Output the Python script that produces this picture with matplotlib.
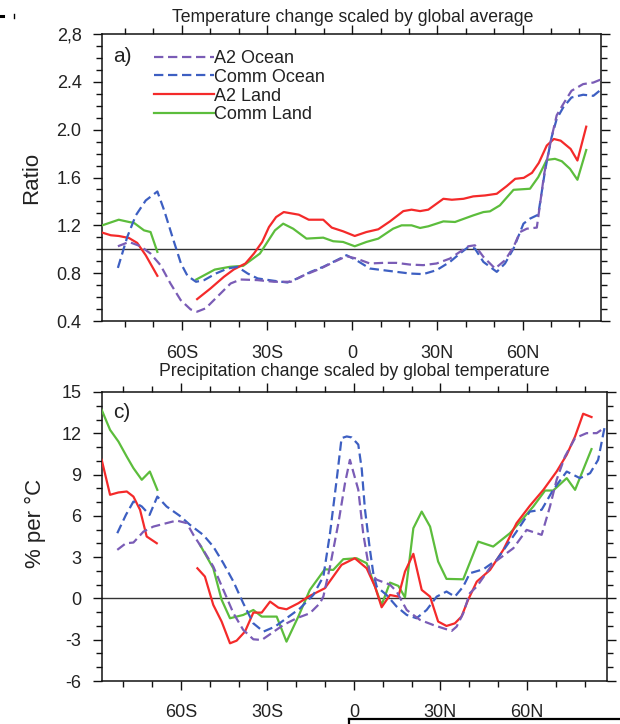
import numpy as np
import matplotlib
matplotlib.use("Agg")
import matplotlib.pyplot as plt
from matplotlib.lines import Line2D
from matplotlib.ticker import MultipleLocator, FixedLocator

plt.rcParams['font.family'] = ['Liberation Sans', 'DejaVu Sans']

nan = np.nan

# ---------------- Panel a) temperature ratio ----------------
a2_ocean_t_lat = [-82.5, -78.6, -74.5, -71, -67.5, -64, -60.4, -56.9, -54.6, -51.6, -47.5, -42.8, -39.3, -33.4,
                  -27.5, -21.6, -16.9, -11.1, -6.4, -2, 1.5, 6.2, 10.9, 15.6, 20.3, 25, 29.7, 34.4, 37.9, 40.9,
                  43.2, 46.2, 50.3, 53.8, 56.8, 59.1, 61.5, 65, 67.6, 70.2, 72, 74.3, 77.2, 81.3, 84.9, 87.8]
a2_ocean_t = [1.025, 1.061, 1.025, 0.964, 0.867, 0.714, 0.575, 0.497, 0.478, 0.506, 0.603, 0.714, 0.747, 0.742,
              0.728, 0.728, 0.783, 0.839, 0.894, 0.942, 0.922, 0.881, 0.886, 0.886, 0.872, 0.867, 0.881, 0.922,
              0.978, 1.025, 1.033, 0.936, 0.839, 0.908, 1.019, 1.144, 1.172, 1.181, 1.631, 1.936, 2.12, 2.214,
              2.325, 2.381, 2.394, 2.422]

comm_ocean_t_lat = [-82.5, -79.2, -76.2, -72.7, -68.6, -66.2, -63.3, -60.3, -58, -55, -52.1, -48, -43.9, -40.4,
                    -36.8, -33.3, -27.5, -22.8, -19.3, -14.6, -10.2, -5.5, -2, 1.5, 6.2, 10.9, 15.6, 20.3, 25,
                    29.7, 34.4, 37.9, 40.9, 43.2, 46.2, 50.9, 53.8, 56.8, 60.3, 62.6, 65.5, 67.9, 70.2, 72, 74.3,
                    77.2, 81.3, 84.9, 87.8]
comm_ocean_t = [0.844, 1.103, 1.283, 1.408, 1.483, 1.325, 1.103, 0.881, 0.778, 0.728, 0.742, 0.797, 0.839, 0.853,
                0.797, 0.756, 0.736, 0.722, 0.756, 0.811, 0.853, 0.908, 0.95, 0.908, 0.839, 0.825, 0.811, 0.797,
                0.792, 0.825, 0.894, 0.964, 1.019, 1.006, 0.894, 0.811, 0.881, 1.006, 1.214, 1.256, 1.289, 1.658,
                1.936, 2.09, 2.186, 2.269, 2.292, 2.283, 2.339]

a2_land_t_lat = [-88, -85, -82.2, -78.6, -75.7, -72.7, -68.6, nan,
                 -54.6, -49.9, -45.2, -41.7, -37.6, -34.6, -31.7, -29.3, -26.8, -24.1, -18.8, -15.3, -10.2, -7.2,
                 -3.2, 0.9, 5, 9.2, 13.3, 18, 20.9, 23.9, 26.8, 32.1, 35.1, 39.2, 42.6, 46.8, 50.9, 54.4, 57.4,
                 60.4, 63.3, 65.7, 68.5, 71, 73.4, 76.9, 79.3, 82.4]
a2_land_t = [1.139, 1.117, 1.111, 1.094, 1.053, 0.95, 0.778, nan,
             0.583, 0.672, 0.769, 0.831, 0.881, 0.964, 1.061, 1.186, 1.269, 1.311, 1.289, 1.247, 1.247, 1.181,
             1.15, 1.111, 1.144, 1.167, 1.233, 1.319, 1.331, 1.319, 1.331, 1.422, 1.414, 1.422, 1.442, 1.45,
             1.464, 1.528, 1.589, 1.597, 1.639, 1.722, 1.867, 1.922, 1.908, 1.839, 1.742, 2.025]

comm_land_t_lat = [-88, -82.2, -78.6, -76.8, -73.3, -71, -68.6, nan,
                   -54.9, -48.4, -43.1, -38.4, -32.5, -27.2, -24.3, -20.8, -16.1, -10.2, -6.7, -3.2, 0.9, 5,
                   9.2, 14.4, 17.4, 20.9, 23.9, 26.8, 32.1, 36.2, 42.6, 46.2, 48.5, 52, 56.8, 62.6, 65.5, 68.5,
                   71.4, 73.8, 76.7, 79.3, 82.4]
comm_land_t = [1.2, 1.247, 1.228, 1.22, 1.158, 1.144, 0.978, nan,
               0.747, 0.83, 0.853, 0.861, 0.964, 1.158, 1.214, 1.172, 1.089, 1.097, 1.067, 1.061, 1.025, 1.061,
               1.089, 1.172, 1.2, 1.2, 1.178, 1.192, 1.233, 1.228, 1.283, 1.311, 1.317, 1.367, 1.497, 1.506,
               1.603, 1.747, 1.756, 1.736, 1.672, 1.581, 1.83]

# ---------------- Panel c) precipitation ----------------
a2_ocean_p_lat = [-82.1, -79.1, -76.5, -73, -69.6, -65, -61.5, -58, -55.7, -52.3, -48.8, -45.3, -41.8, -38.4,
                  -34.9, -32, -28.6, -24.5, -19.9, -15.3, -11.8, -10.6, -8.3, -5.4, -3.1, -1.4, 1.5, 3.2, 5.5,
                  7.9, 12.5, 14.8, 18.3, 22.9, 27.5, 31, 33.9, 35.6, 37.9, 40.2, 42.6, 48.3, 55.3, 59.9, 65.1,
                  68, 70.3, 73.2, 76.7, 80.7, 84.2, 86.7]
a2_ocean_p = [3.53, 4.01, 4.06, 4.86, 5.22, 5.47, 5.66, 5.47, 4.62, 3.53, 2.32, 0.62, -1.08, -2.29, -2.97,
              -3.02, -2.53, -1.93, -1.44, -1.08, -0.35, 0.15, 2.32, 5.47, 8.38, 10.07, 7.9, 4.74, 1.84, 1.36,
              1.0, 0.5, -0.84, -1.56, -1.93, -2.17, -2.36, -2.05, -1.08, 0.38, 0.86, 2.56, 3.65, 4.98, 4.62,
              6.68, 8.62, 10.32, 11.65, 12.01, 12.01, 12.38]

comm_ocean_p_lat = [-82.1, -79.1, -76.5, -73.6, -70.9, -68.2, -65, -60.4, -56.9, -52.3, -48.8, -45.3, -41.8,
                    -38.4, -34.9, -31.4, -27.4, -23.4, -18.7, -14.1, -10.6, -8.3, -6, -4.3, -2.5, -0.8, 1.5,
                    2.7, 3.8, 5.5, 6.7, 7.9, 11.3, 14.8, 18.3, 21.7, 25.2, 28.7, 32.1, 35, 37.9, 40.2, 44.9,
                    49.5, 56.4, 61, 65.1, 69.1, 73.8, 78.4, 81.9, 84.7, 87]
comm_ocean_p = [4.74, 6.07, 7.04, 6.68, 6.07, 7.4, 6.68, 6.0, 5.35, 4.62, 3.77, 2.56, 1.22, -0.35, -1.81,
                -2.41, -2.05, -1.44, -0.72, 0.25, 1.6, 4.74, 8.62, 11.65, 11.77, 11.7, 11.18, 9.4, 6.5, 3.6,
                1.84, 0.86, 0.25, -0.59, -1.2, -1.44, -0.84, 0.13, 0.5, 0.13, 0.86, 1.83, 2.12, 2.8, 4.86,
                6.31, 6.44, 7.89, 9.22, 8.74, 9.1, 10.07, 12.5]

a2_land_p_lat = [-87.5, -84.6, -81.7, -78.8, -76.5, -74.2, -71.9, -68.4, nan,
                 -54.3, -51.7, -48.8, -45.9, -43, -40.7, -37.8, -34.9, -32, -29.1, -26.2, -23.4, -19.3, -15.8,
                 -10.1, -4.3, 0.3, 4.4, 7.3, 9.6, 12.5, 15.4, 17.7, 20.6, 23.5, 26.4, 29.2, 32.1, 35, 37.3,
                 39.6, 42.6, 47.2, 51.8, 56.4, 61, 65.7, 70.3, 73.8, 76.7, 79.5, 82.4]
a2_land_p = [10.07, 7.53, 7.7, 7.77, 7.4, 6.44, 4.5, 4.01, nan,
             2.19, 1.59, -0.47, -1.68, -3.26, -3.07, -2.41, -1.03, -1.03, -0.23, -0.67, -0.79, -0.35, 0.13,
             0.74, 2.44, 2.92, 2.19, 0.86, -0.64, 0.25, 0.13, 1.95, 3.24, 0.62, 0.13, -1.68, -2.0, -1.81,
             -1.32, -0.1, 1.22, 2.07, 3.53, 5.47, 6.73, 7.89, 9.22, 10.44, 11.77, 13.42, 13.18]

comm_land_p_lat = [-87.5, -84.6, -81.7, -78.8, -76.5, -73.6, -70.8, -68.2, nan,
                   -53.4, -48.8, -45.9, -43, -38.4, -34.9, -32, -26.8, -23.4, -19.3, -15.3, -10.1, -7.2, -3.7,
                   0.9, 4.4, 7.3, 9.6, 12.5, 15.4, 17.7, 20.6, 23.5, 26.4, 29.2, 32.1, 37.9, 43.1, 48.3, 54.1,
                   58.2, 62.2, 66.3, 69.1, 73.8, 76.7, 82.4]
comm_land_p = [13.7, 12.25, 11.4, 10.3, 9.47, 8.62, 9.22, 7.89, nan,
               3.89, 2.19, -0.1, -1.44, -1.2, -0.84, -1.32, -1.32, -3.14, -1.32, 0.62, 2.12, 2.07, 2.85,
               2.92, 2.56, 0.86, -0.47, 1.15, 0.91, 0.08, 5.1, 6.31, 5.22, 2.68, 1.42, 1.39, 4.13, 3.77, 4.74,
               5.7, 6.68, 7.84, 7.84, 8.74, 7.89, 10.85]

series_names = ["A2 Ocean", "Comm Ocean", "A2 Land", "Comm Land"]
colors = ["#7a5cb6", "#3d5fc2", "#f42a2a", "#5cbd3c"]
dashed = [True, True, False, False]

xtick_pos = [-60, -30, 0, 30, 60]
xtick_lab = ["60S", "30S", "0", "30N", "60N"]
ytick_a = [0.4, 0.8, 1.2, 1.6, 2.0, 2.4, 2.8]
ytick_a_lab = ["0.4", "0.8", "1.2", "1.6", "2.0", "2.4", "2,8"]
ytick_c = [-6, -3, 0, 3, 6, 9, 12, 15]

W, H = 620, 724
fig = plt.figure(figsize=(W / 100, H / 100), dpi=100)

def ax_rect(l, t, r, b):
    return [l / W, 1 - b / H, (r - l) / W, (b - t) / H]

ax1 = fig.add_axes(ax_rect(101.7, 34, 601, 321))
ax2 = fig.add_axes(ax_rect(101.7, 392, 606.5, 681))

TXT = "#222222"
LW = 1.6
DASH = (4.2, 2.1)

def style(ax, xlim, ylim, yt, ytl, ymin, xpad):
    ax.set_xlim(*xlim)
    ax.set_ylim(*ylim)
    ax.xaxis.set_major_locator(FixedLocator(xtick_pos))
    ax.set_xticklabels(xtick_lab)
    ax.xaxis.set_minor_locator(MultipleLocator(10))
    ax.set_yticks(yt)
    ax.set_yticklabels(ytl)
    ax.yaxis.set_minor_locator(MultipleLocator(ymin))
    for s in ax.spines.values():
        s.set_linewidth(1.1)
        s.set_color("#111111")
    ax.tick_params(which="both", direction="out", top=True, right=True, color="#111111", width=1.0)
    ax.tick_params(which="major", length=6.5)
    ax.tick_params(which="minor", length=4.0)
    ax.tick_params(axis="x", which="major", pad=xpad, labelsize=13, labelcolor=TXT)
    ax.tick_params(axis="y", which="major", pad=8.0, labelsize=13, labelcolor=TXT)

style(ax1, (-88.2, 87.6), (0.4, 2.8), ytick_a, ytick_a_lab, 0.1, 10.5)
style(ax2, (-87.5, 87.6), (-6, 15), ytick_c, [str(v) for v in ytick_c], 1, 10.0)

ax1.axhline(1.0, color="#333333", lw=1.0, zorder=1)
ax2.axhline(0.0, color="#333333", lw=1.0, zorder=1)

temp = [(a2_ocean_t_lat, a2_ocean_t), (comm_ocean_t_lat, comm_ocean_t),
        (a2_land_t_lat, a2_land_t), (comm_land_t_lat, comm_land_t)]
prec = [(a2_ocean_p_lat, a2_ocean_p), (comm_ocean_p_lat, comm_ocean_p),
        (a2_land_p_lat, a2_land_p), (comm_land_p_lat, comm_land_p)]

order = [3, 2, 1, 0]
for ax, data in ((ax1, temp), (ax2, prec)):
    for i in order:
        x, y = data[i]
        kw = dict(color=colors[i], lw=LW, label=series_names[i], zorder=3 + (3 - i) * 0.1)
        if dashed[i]:
            ax.plot(x, y, dashes=DASH, **kw)
        else:
            ax.plot(x, y, **kw)

leg_handles = []
for i in range(4):
    if dashed[i]:
        leg_handles.append(Line2D([], [], color=colors[i], lw=LW, dashes=DASH))
    else:
        leg_handles.append(Line2D([], [], color=colors[i], lw=LW, linestyle="-"))
leg = ax1.legend(leg_handles, series_names, loc="upper left",
                 bbox_to_anchor=((154 - 101.7) / (601 - 101.7), 1 - (50 - 34) / (321 - 34)),
                 frameon=False, fontsize=13, handlelength=3.3, handletextpad=0.05,
                 labelspacing=0.1, borderpad=0, borderaxespad=0)
for t in leg.get_texts():
    t.set_color(TXT)

fig.text(113 / W, 1 - 57 / H, "a)", fontsize=15, color=TXT, va="center", ha="left")
fig.text(113 / W, 1 - 413 / H, "c)", fontsize=15, color=TXT, va="center", ha="left")

fig.text(353 / W, 1 - 22 / H, "Temperature change scaled by global average", fontsize=12.7,
         color=TXT, ha="center", va="baseline")
fig.text(354 / W, 1 - 376 / H, "Precipitation change scaled by global temperature", fontsize=12.7,
         color=TXT, ha="center", va="baseline")

fig.text(32 / W, 1 - 178 / H, "Ratio", fontsize=16, color=TXT, rotation=90, ha="center", va="center")
fig.text(35 / W, 1 - 523 / H, "% per °C", fontsize=16, color=TXT, rotation=90, ha="center", va="center")

# stray marks present in the reference image
fig.add_artist(Line2D([0 / W, 3 / W], [1 - 15.5 / H, 1 - 15.5 / H], transform=fig.transFigure,
                      color="black", lw=2.2))
fig.add_artist(Line2D([14 / W, 14 / W], [1 - 14 / H, 1 - 18 / H], transform=fig.transFigure,
                      color="black", lw=1.0))
fig.add_artist(Line2D([349 / W, 620 / W], [1 - 718.5 / H, 1 - 718.5 / H], transform=fig.transFigure,
                      color="black", lw=1.6))
fig.add_artist(Line2D([349 / W, 349 / W], [1 - 718.5 / H, 0], transform=fig.transFigure,
                      color="black", lw=1.6))

fig.savefig("out.png", dpi=100)
